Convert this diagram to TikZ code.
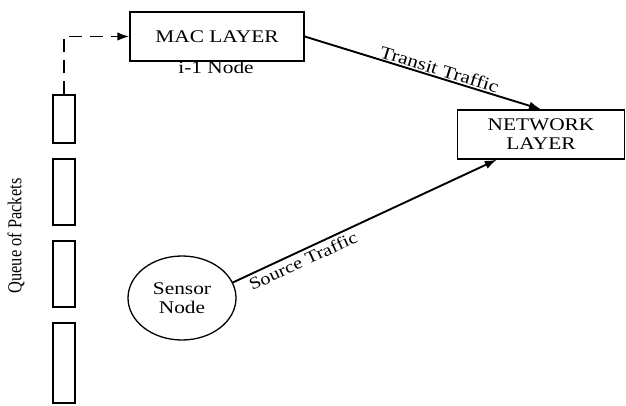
\documentclass[tikz,border=0pt]{standalone}
\usepackage{fontspec}
\setmainfont{Liberation Serif}
\usetikzlibrary{arrows.meta,calc,shapes.geometric}
\newcommand{\wide}[1]{\scalebox{1.2}[1]{#1}}
\tikzset{
  x=1pt, y=-1pt,
  box/.style={draw, line width=1.4pt, rectangle, inner sep=0pt},
  slot/.style={draw, line width=1.3pt, rectangle, inner sep=0pt, minimum width=22pt},
  flow/.style={line width=1.9pt, -{Latex[length=12pt,width=8.5pt]}},
  txt/.style={font=\fontsize{17.8}{19}\selectfont},
}
\begin{document}
\begin{tikzpicture}
\useasboundingbox (0,0) rectangle (626,406);

% layer boxes
\node[box, txt, minimum width=174pt, minimum height=49pt] (mac) at (217,36.5) {\wide{MAC LAYER}};
\node[txt, anchor=base] (prev) at (216,74) {\wide{i-1 Node}};
\node[box, txt, align=center, minimum width=167pt, minimum height=49pt] (net) at (541,134.5) {\wide{NETWORK}\\\wide{LAYER}};

% packet queue
\node[slot, minimum height=48pt] (q1) at (64,119) {};
\node[slot, minimum height=66pt] (q2) at (64,192) {};
\node[slot, minimum height=66pt] (q3) at (64,274) {};
\node[slot, minimum height=80pt] (q4) at (64,363) {};
\node[font=\fontsize{16.4}{18}\selectfont, rotate=90] (qlabel) at (16,236) {\scalebox{1}[1.2]{Queue of Packets}};

% sensor
\node[draw, line width=1.3pt, ellipse, minimum width=108pt, minimum height=84pt, txt, align=center, inner sep=0pt] (sensor) at (182,298) {\wide{Sensor}\\\wide{Node}};

% connectors
\draw[line width=1.9pt, dash pattern=on 13pt off 8pt, -{Latex[length=12pt,width=8.5pt]}] (q1.north) |- (mac.west);
\draw[flow] (mac.east) -- node[pos=0.56, above, sloped, inner sep=1pt, txt] (tlabel) {\wide{Transit Traffic}} (net.north);
\coordinate (srcin) at ($(net.south west)+(40,0)$);
\draw[flow] (sensor.17) -- node[pos=0.25, below, sloped, inner sep=3pt, font=\fontsize{17}{19}\selectfont] (slabel) {\wide{Source Traffic}} (srcin);
\end{tikzpicture}
\end{document}
